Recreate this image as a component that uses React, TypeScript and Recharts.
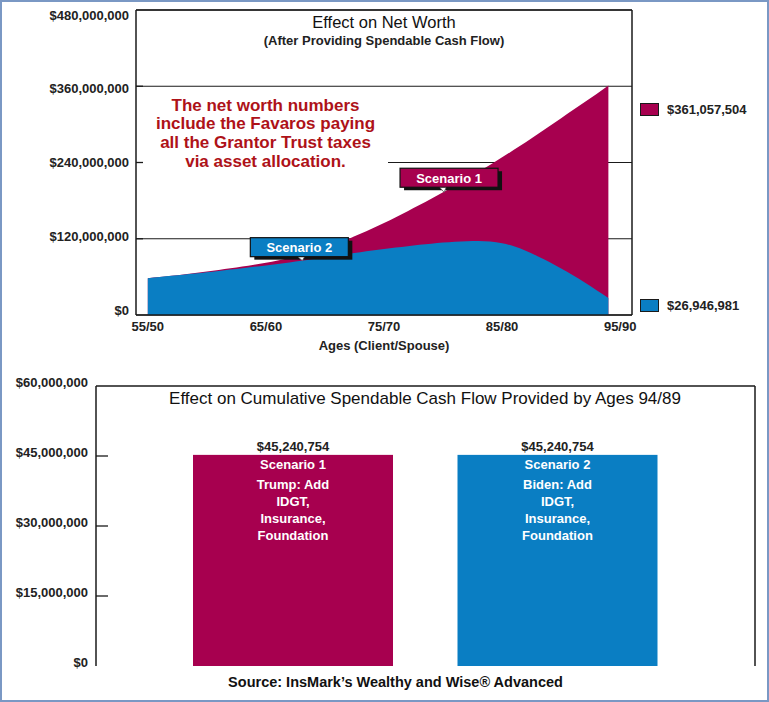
import React from 'react';
import {
  AreaChart,
  Area,
  BarChart,
  Bar,
  XAxis,
  YAxis,
  CartesianGrid,
  ReferenceLine,
  ReferenceDot,
} from 'recharts';

const FONT = "'Liberation Sans', Arial, Helvetica, sans-serif";
const MAGENTA = '#A7004F';
const BLUE = '#0A7EC3';
const RED = '#AE1218';
const INK = '#1a1a1a';

// client age (spouse is 5 years younger)
const ages = [
  55, 56, 57, 58, 59, 60, 61, 62, 63, 64, 65, 66, 67, 68, 69, 70, 71, 72, 73, 74,
  75, 76, 77, 78, 79, 80, 81, 82, 83, 84, 85, 86, 87, 88, 89, 90, 91, 92, 93, 94,
];

// net worth in $ millions
const scenario1 = [
  58, 59.8, 61.8, 63.9, 66.1, 68.4, 70.8, 73.4, 76.2, 79.2, 82.4, 85.9, 89.8, 94.3, 99.5,
  105.5, 112.3, 119.7, 127.7, 136.1, 144.9, 154, 163.4, 173.1, 183.1, 193.2, 203.6, 214.3,
  225.3, 236.6, 248.1, 259.9, 272, 284.4, 297, 309.8, 322.5, 335.2, 348, 361.057504,
];
const scenario2 = [
  58, 59.8, 61.6, 63.5, 65.4, 67.4, 69.4, 71.5, 73.6, 75.8, 78, 80.3, 82.8, 85.5, 88.3,
  91, 93.7, 96.3, 98.9, 101.4, 103.8, 106.1, 108.3, 110.4, 112.3, 114, 115.4, 116.2, 116.4,
  115.5, 112.8, 108.2, 101.3, 92.5, 83.3, 73.2, 62.5, 51, 39, 26.946981,
];

const netWorthTicks = [0, 120000000, 240000000, 360000000, 480000000];
const ageTicks = [55, 65, 75, 85, 95];

// cumulative spendable cash flow by ages 94/89
const barNames = ['Scenario 1', 'Scenario 2'];
const barValues = [45240754, 45240754];
const barNotes = [
  ['Trump: Add', 'IDGT,', 'Insurance,', 'Foundation'],
  ['Biden: Add', 'IDGT,', 'Insurance,', 'Foundation'],
];
const barColors = [MAGENTA, BLUE];
const cashTicks = [0, 15000000, 30000000, 45000000, 60000000];

const NW_MAX = 480000000;
const CASH_MAX = 60000000;

const netWorthData = ages.map((age, i) => ({
  age,
  s1: scenario1[i] * 1e6,
  s2: scenario2[i] * 1e6,
}));

const cashData = barNames.map((name, i) => ({
  name,
  value: barValues[i],
  notes: barNotes[i],
  color: barColors[i],
}));

const fmtMoney = (v: number) => `$${Math.round(v).toLocaleString('en-US')}`;
const fmtAge = (a: number) => `${a}/${a - 5}`;

const frameLine = { stroke: INK, strokeWidth: 1.5 };
const labelStyle = { fontSize: 13, fontWeight: 700, fill: '#222', fontFamily: FONT };

// right edge of the plot frame
const rightEdge = ({ offset }: any) => [offset.left + offset.width];

function NetWorthTick({ x, y, payload }: any) {
  const v = payload.value;
  const dy = (v / NW_MAX - 0.5) * 10;
  const inner = v > 0 && v < NW_MAX;
  return (
    <g>
      {inner && <line x1={x + 7} x2={x + 14} y1={y} y2={y} stroke={INK} strokeWidth={1.3} />}
      <text x={x} y={y + dy} textAnchor="end" dominantBaseline="central" style={labelStyle}>
        {fmtMoney(v)}
      </text>
    </g>
  );
}

function CashTick({ x, y, payload }: any) {
  const v = payload.value;
  const inner = v > 0 && v < CASH_MAX;
  return (
    <g>
      {inner && <line x1={x + 8} x2={x + 20} y1={y} y2={y} stroke={INK} strokeWidth={1.3} />}
      <text x={x} y={y - 4} textAnchor="end" dominantBaseline="central" style={labelStyle}>
        {fmtMoney(v)}
      </text>
    </g>
  );
}

function Callout({ cx, cy, text, fill, dx, gap }: any) {
  const w = 98;
  const h = 19;
  const left = cx + dx - w / 2;
  const bottom = cy - gap;
  const top = bottom - h;
  return (
    <g>
      <rect x={left + 4} y={top + 3} width={w} height={h} fill="#111" />
      <rect x={left} y={top} width={w} height={h} fill={fill} stroke="#111" strokeWidth={1.2} />
      <path
        d={`M${cx - 3},${bottom + 0.5} L${cx + 1},${cy} L${cx + 3},${bottom + 0.5}`}
        fill="#fff"
        stroke="#555"
        strokeWidth={0.8}
      />
      <text
        x={left + w / 2}
        y={top + h / 2 + 0.5}
        textAnchor="middle"
        dominantBaseline="central"
        style={{ fontSize: 13, fontWeight: 700, fill: '#fff', fontFamily: FONT }}
      >
        {text}
      </text>
    </g>
  );
}

function CashBar(props: any) {
  const { x, y, width, height, payload } = props;
  const cx = x + width / 2;
  const white = { fontSize: 13, fontWeight: 700, fill: '#fff', fontFamily: FONT };
  return (
    <g>
      <rect x={x} y={y} width={width} height={height} fill={payload.color} />
      <text x={cx} y={y - 8} textAnchor="middle" dominantBaseline="central" style={labelStyle}>
        {fmtMoney(payload.value)}
      </text>
      <text x={cx} y={y + 10} textAnchor="middle" dominantBaseline="central" style={white}>
        {payload.name}
      </text>
      {payload.notes.map((line: string, i: number) => (
        <text
          key={line + i}
          x={cx}
          y={y + 30 + i * 17}
          textAnchor="middle"
          dominantBaseline="central"
          style={white}
        >
          {line}
        </text>
      ))}
    </g>
  );
}

export default function App() {
  const i2 = ages.indexOf(68);
  const i1 = ages.indexOf(80);
  const last = ages.length - 1;

  return (
    <div
      style={{
        position: 'absolute',
        left: 0,
        top: 0,
        width: 769,
        height: 702,
        background: '#fff',
        fontFamily: FONT,
        overflow: 'hidden',
      }}
    >
      {/* Effect on net worth */}
      <div style={{ position: 'absolute', left: 0, top: 0 }}>
        <AreaChart
          width={769}
          height={360}
          data={netWorthData}
          margin={{ top: 10, right: 137, bottom: 5, left: 0 }}
        >
          <CartesianGrid vertical={false} stroke={INK} strokeWidth={1.2} />
          <XAxis
            dataKey="age"
            type="number"
            domain={[54, 96]}
            ticks={ageTicks}
            interval={0}
            tickFormatter={fmtAge}
            tickSize={0}
            tickMargin={7}
            tickLine={false}
            height={40}
            axisLine={frameLine}
            tick={labelStyle}
            label={{
              value: 'Ages (Client/Spouse)',
              position: 'insideBottom',
              offset: 5,
              style: labelStyle,
            }}
          />
          <YAxis
            type="number"
            domain={[0, NW_MAX]}
            ticks={netWorthTicks}
            interval={0}
            width={136}
            tickSize={0}
            tickMargin={7}
            tickLine={false}
            axisLine={frameLine}
            tick={(p: any) => <NetWorthTick {...p} />}
          />
          <Area
            type="monotone"
            dataKey="s1"
            name="Scenario 1"
            fill={MAGENTA}
            fillOpacity={1}
            stroke="none"
            isAnimationActive={false}
          />
          <Area
            type="monotone"
            dataKey="s2"
            name="Scenario 2"
            fill={BLUE}
            fillOpacity={1}
            stroke="none"
            isAnimationActive={false}
          />
          <ReferenceLine y={NW_MAX} {...frameLine} />
          <ReferenceLine x={96} {...frameLine} />
          <ReferenceDot
            x={ages[i2]}
            y={scenario2[i2] * 1e6}
            r={0}
            shape={(p: any) => <Callout {...p} text="Scenario 2" fill={BLUE} dx={-2} gap={4} />}
          />
          <ReferenceDot
            x={ages[i1]}
            y={scenario1[i1] * 1e6}
            r={0}
            shape={(p: any) => <Callout {...p} text="Scenario 1" fill={MAGENTA} dx={6} gap={5} />}
          />
        </AreaChart>
      </div>

      <div
        style={{
          position: 'absolute',
          left: 0,
          width: 768,
          top: 14,
          textAlign: 'center',
          fontSize: 16.5,
          lineHeight: 1,
          color: '#111',
        }}
      >
        Effect on Net Worth
      </div>
      <div
        style={{
          position: 'absolute',
          left: 0,
          width: 768,
          top: 33.5,
          textAlign: 'center',
          fontSize: 13,
          fontWeight: 700,
          lineHeight: 1,
          color: '#222',
        }}
      >
        (After Providing Spendable Cash Flow)
      </div>

      <div
        style={{
          position: 'absolute',
          left: 143,
          width: 245,
          top: 96.5,
          textAlign: 'center',
          fontSize: 17,
          fontWeight: 700,
          lineHeight: '18.7px',
          color: RED,
          background: '#fff',
        }}
      >
        <div>The net worth numbers</div>
        <div>include the Favaros paying</div>
        <div>all the Grantor Trust taxes</div>
        <div>via asset allocation.</div>
      </div>

      {/* end values */}
      {[
        { top: 103, color: MAGENTA, value: scenario1[last] * 1e6 },
        { top: 299, color: BLUE, value: scenario2[last] * 1e6 },
      ].map((item) => (
        <div
          key={item.top}
          style={{
            position: 'absolute',
            left: 640,
            top: item.top,
            display: 'flex',
            alignItems: 'center',
            fontSize: 13,
            fontWeight: 700,
            color: '#222',
          }}
        >
          <div
            style={{
              width: 19,
              height: 13,
              boxSizing: 'border-box',
              border: `1.5px solid ${INK}`,
              background: item.color,
            }}
          />
          <span style={{ marginLeft: 8, lineHeight: '13px' }}>{fmtMoney(item.value)}</span>
        </div>
      ))}

      {/* Cumulative spendable cash flow */}
      <div style={{ position: 'absolute', left: 0, top: 360 }}>
        <BarChart
          width={769}
          height={342}
          data={cashData}
          margin={{ top: 26, right: 14, bottom: 36, left: 0 }}
        >
          <CartesianGrid
            horizontal={false}
            vertical
            verticalCoordinatesGenerator={rightEdge}
            stroke={INK}
            strokeWidth={1.5}
          />
          <XAxis
            dataKey="name"
            type="category"
            padding={{ left: 65, right: 65 }}
            tick={false}
            tickLine={false}
            height={0}
            axisLine={frameLine}
          />
          <YAxis
            type="number"
            domain={[0, CASH_MAX]}
            ticks={cashTicks}
            interval={0}
            width={96}
            tickSize={0}
            tickMargin={8}
            tickLine={false}
            axisLine={frameLine}
            tick={(p: any) => <CashTick {...p} />}
          />
          <ReferenceLine y={CASH_MAX} {...frameLine} />
          <Bar dataKey="value" barSize={200} isAnimationActive={false} shape={CashBar} />
        </BarChart>
      </div>

      <div
        style={{
          position: 'absolute',
          left: 95,
          width: 660,
          top: 390,
          textAlign: 'center',
          fontSize: 17,
          lineHeight: 1,
          color: '#111',
        }}
      >
        Effect on Cumulative Spendable Cash Flow Provided by Ages 94/89
      </div>
      <div
        style={{
          position: 'absolute',
          left: 21,
          width: 749,
          top: 675,
          textAlign: 'center',
          fontSize: 14.5,
          fontWeight: 700,
          lineHeight: 1,
          color: '#111',
        }}
      >
        Source: InsMark’s Wealthy and Wise® Advanced
      </div>

      <div
        style={{
          position: 'absolute',
          left: 0,
          top: 0,
          width: 769,
          height: 702,
          boxSizing: 'border-box',
          border: '2px solid #7A98C4',
          pointerEvents: 'none',
        }}
      />
    </div>
  );
}
